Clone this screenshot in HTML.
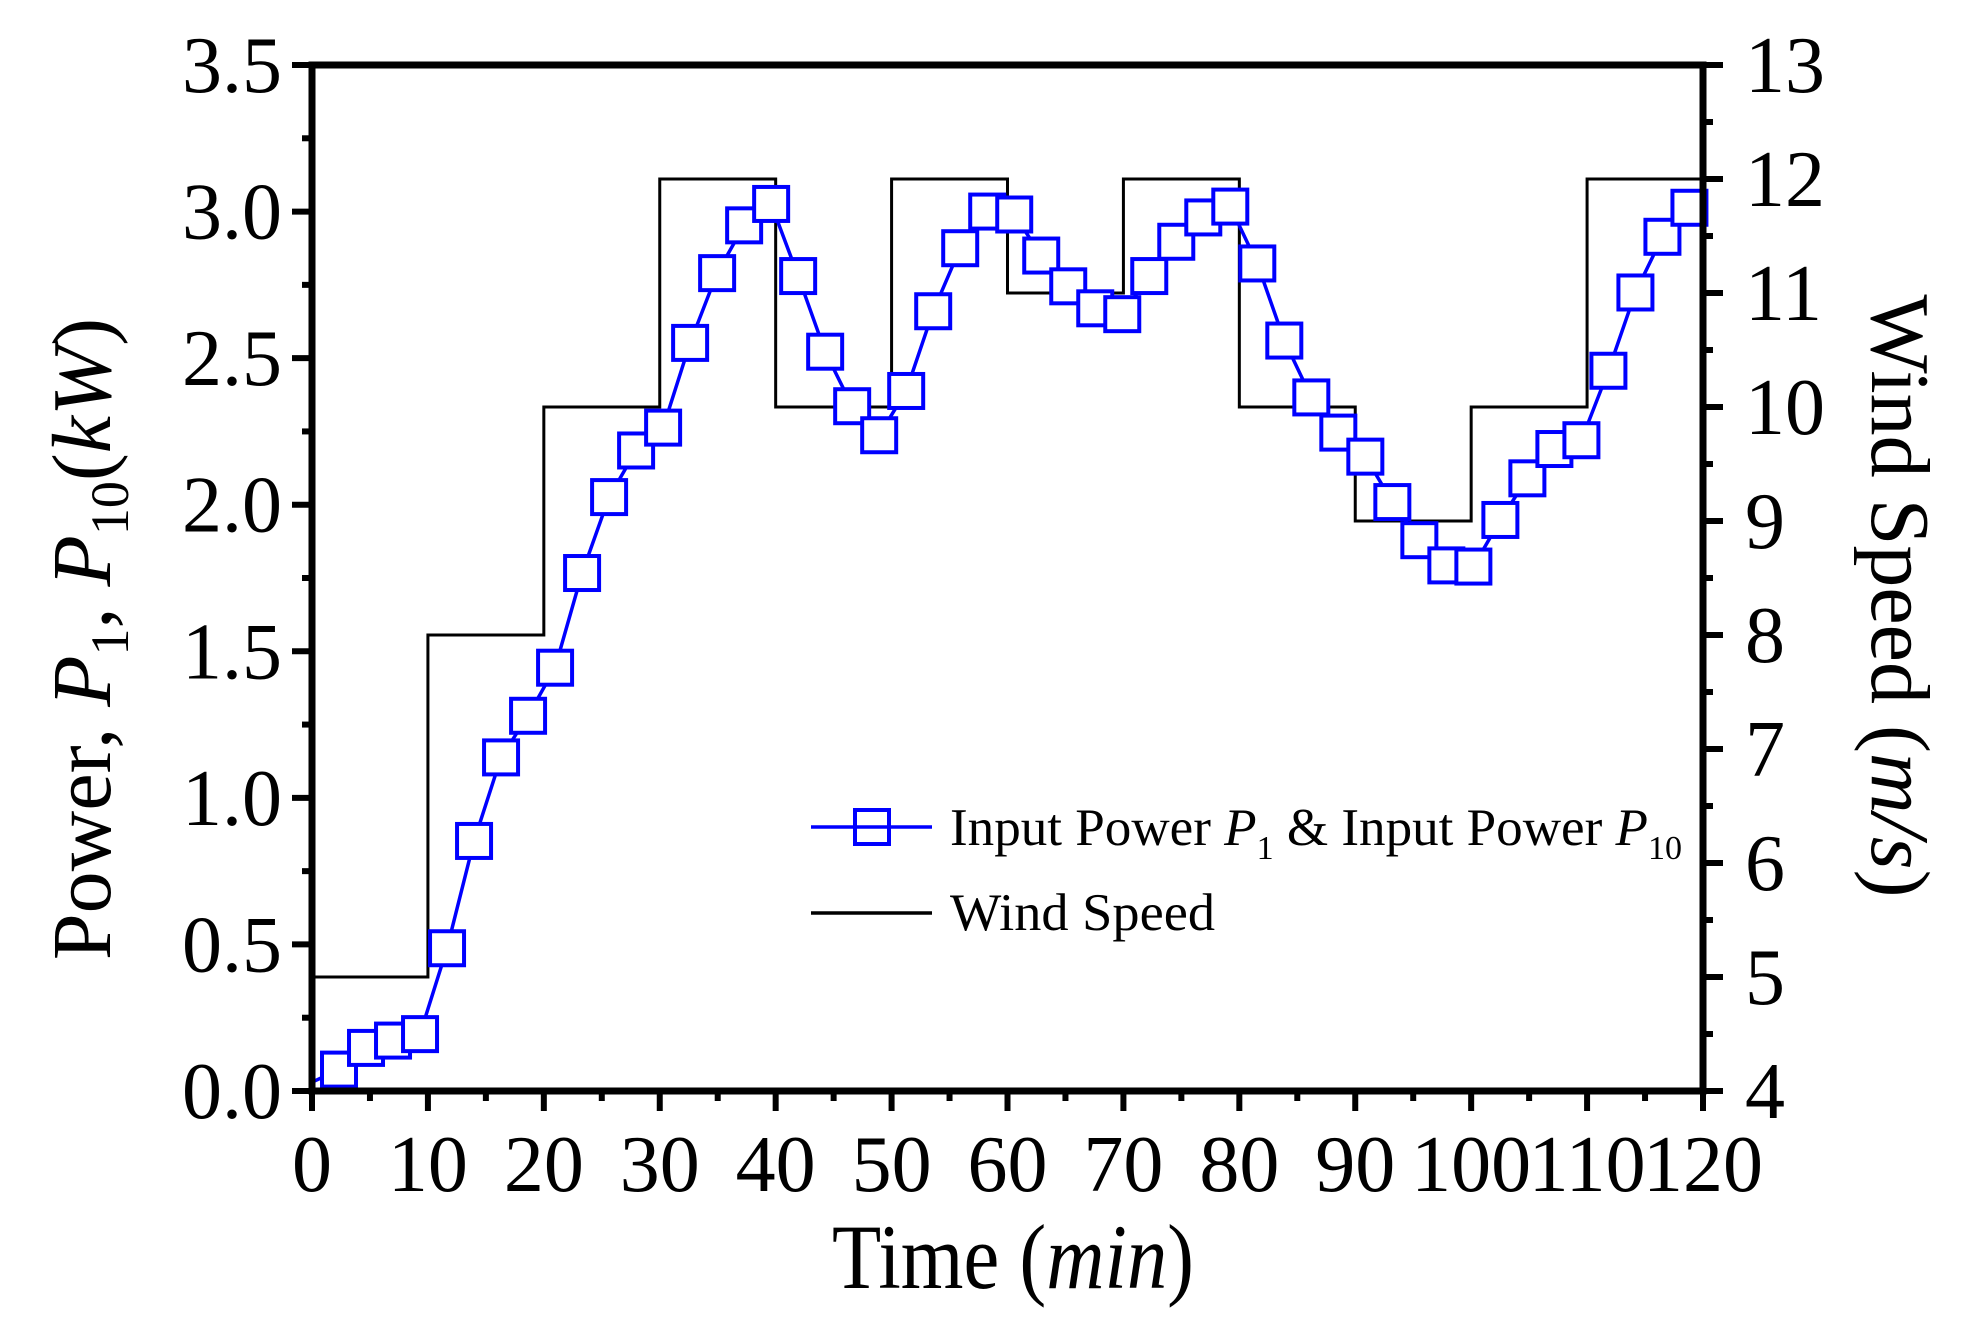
<!DOCTYPE html>
<html><head><meta charset="utf-8"><style>
html,body{margin:0;padding:0;background:#fff;}
svg{display:block;font-family:"Liberation Serif","Times New Roman",serif;}
</style></head><body>
<svg id="s" width="1977" height="1318" viewBox="0 0 1977 1318" xmlns="http://www.w3.org/2000/svg">
<rect width="1977" height="1318" fill="#fff"/>
<g id="g"></g>
<!-- legend -->
<line x1="811" y1="827" x2="932" y2="827" stroke="#0000ff" stroke-width="3.5"/>
<rect x="855" y="810" width="34" height="34" fill="none" stroke="#0000ff" stroke-width="4"/>
<text x="950" y="845" font-size="53" textLength="732" lengthAdjust="spacingAndGlyphs">Input Power <tspan font-style="italic">P</tspan><tspan font-size="34" dy="14">1</tspan><tspan dy="-14"> &amp; Input Power </tspan><tspan font-style="italic">P</tspan><tspan font-size="34" dy="14">10</tspan></text>
<line x1="811" y1="913" x2="932" y2="913" stroke="#000" stroke-width="3.5"/>
<text x="950" y="930" font-size="53" textLength="265" lengthAdjust="spacingAndGlyphs">Wind Speed</text>
<!-- axis titles -->
<text x="1013" y="1288" font-size="92" text-anchor="middle" textLength="362" lengthAdjust="spacingAndGlyphs">Time (<tspan font-style="italic">min</tspan>)</text>
<text transform="translate(110,639) rotate(-90)" font-size="84" text-anchor="middle">Power, <tspan font-style="italic">P</tspan><tspan font-size="54" dy="18">1</tspan><tspan dy="-18">, </tspan><tspan font-style="italic">P</tspan><tspan font-size="54" dy="18">10</tspan><tspan dy="-18">(</tspan><tspan font-style="italic">kW</tspan>)</text>
<text transform="translate(1872,596) rotate(90)" font-size="84" text-anchor="middle">Wind Speed (<tspan font-style="italic">m/s</tspan>)</text>
</svg>
<script>
var L=312,R=1703,T=65,B=1091;
function X(t){return L+(R-L)*t/120;}
function YP(p){return B-(B-T)*p/3.5;}
function YW(w){return B-(B-T)*(w-4)/9;}
var h='';
var ws=[5,8,10,12,10,12,11,12,10,9,10,12];
var d='M'+X(0)+','+YW(5);
for(var i=0;i<12;i++){d+=' L'+X(i*10)+','+YW(ws[i])+' L'+X(i*10+10)+','+YW(ws[i]);}
h+='<path d="'+d+'" fill="none" stroke="#000" stroke-width="3"/>';
var pv=[0.073,0.147,0.172,0.194,0.487,0.853,1.138,1.28,1.444,1.767,2.026,2.185,2.263,2.552,2.79,2.953,3.026,2.78,2.522,2.336,2.237,2.388,2.66,2.875,3.0,2.99,2.85,2.745,2.67,2.65,2.78,2.897,2.98,3.017,2.823,2.56,2.366,2.246,2.164,2.009,1.879,1.793,1.789,1.948,2.09,2.19,2.22,2.457,2.724,2.914,3.013];
var pts=[[X(0),YP(0.03)]];
for(var k=0;k<pv.length;k++)pts.push([X((k+1)*2.33),YP(pv[k])]);
h+='<polyline points="'+pts.map(function(p){return p.join(',')}).join(' ')+'" fill="none" stroke="#0000ff" stroke-width="3.5"/>';
for(var k=1;k<pts.length;k++){h+='<rect x="'+(pts[k][0]-17)+'" y="'+(pts[k][1]-17)+'" width="34" height="34" fill="#fff" stroke="#0000ff" stroke-width="4"/>';}
h+='<rect x="'+L+'" y="'+T+'" width="'+(R-L)+'" height="'+(B-T)+'" fill="none" stroke="#000" stroke-width="7"/>';
for(var i=0;i<=14;i++){var y=YP(i*0.25),len=(i%2==0)?20:10;h+='<line x1="'+(L-len)+'" y1="'+y+'" x2="'+L+'" y2="'+y+'" stroke="#000" stroke-width="6"/>';
 if(i%2==0)h+='<text x="'+(L-30)+'" y="'+(y+27)+'" font-size="80" text-anchor="end">'+(i*0.25).toFixed(1)+'</text>';}
for(var i=0;i<=18;i++){var w=4+i*0.5,y=YW(w),len=(i%2==0)?20:10;h+='<line x1="'+R+'" y1="'+y+'" x2="'+(R+len)+'" y2="'+y+'" stroke="#000" stroke-width="6"/>';
 if(i%2==0)h+='<text x="'+(R+42)+'" y="'+(y+27)+'" font-size="80">'+w+'</text>';}
for(var i=0;i<=24;i++){var x=X(i*5),len=(i%2==0)?20:10;h+='<line x1="'+x+'" y1="'+B+'" x2="'+x+'" y2="'+(B+len)+'" stroke="#000" stroke-width="6"/>';
 if(i%2==0)h+='<text x="'+x+'" y="'+(B+100)+'" font-size="80" text-anchor="middle">'+(i*5)+'</text>';}
document.getElementById('g').innerHTML=h;
</script>
</body></html>
